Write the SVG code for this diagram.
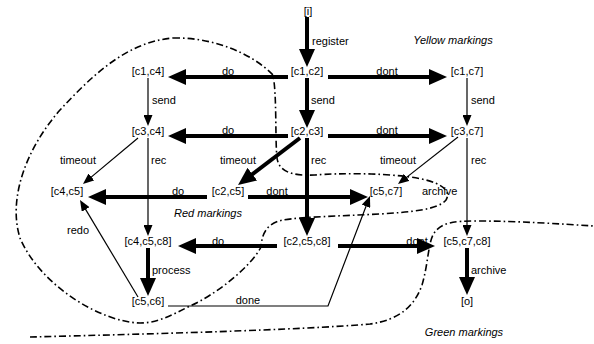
<svg xmlns="http://www.w3.org/2000/svg" width="594" height="344" viewBox="0 0 594 344">
  <style>
    text { font-family: "Liberation Sans", Arial, sans-serif; font-size: 11px; fill: #000; }
    .node { text-anchor: middle; }
    .mid { text-anchor: middle; }
    .note { font-style: italic; text-anchor: middle; }
    .thick { stroke: #000; stroke-width: 4; fill: none; marker-end: url(#headBig); }
    .thin { stroke: #000; stroke-width: 1.2; fill: none; marker-end: url(#headSmall); }
    .region { stroke: #000; stroke-width: 1.6; fill: none; stroke-dasharray: 7 3 1.6 3; }
  </style>
  <defs>
    <marker id="headBig" markerUnits="userSpaceOnUse" markerWidth="18" markerHeight="16" refX="6" refY="8" orient="auto">
      <path d="M0,0 L18,8 L0,16 z" fill="#000"/>
    </marker>
    <marker id="headSmall" markerUnits="userSpaceOnUse" markerWidth="11" markerHeight="9" refX="3" refY="4.5" orient="auto">
      <path d="M0,0 L11,4.5 L0,9 z" fill="#000"/>
    </marker>
  </defs>

  <rect width="594" height="344" fill="#fff"/>

  <!-- marking regions -->
  <g id="regions">
    <path class="region" d="M173,38 C212,37 252,53 273,75 C277,95 275,140 277,158 C279,172 292,176 315,175 C340,173 380,173 410,177 C440,181 452,190 446,200 C438,210 410,212 380,214 C340,216 300,217 283,220 C268,223 262,232 261,247 C250,268 215,295 190,306 C172,315 158,323 140,323 C100,322 40,285 20,238 C8,200 25,150 60,110 C90,78 125,42 173,38 Z"/>
    <path class="region" d="M30,337 C150,334 300,330 370,324 C400,320 415,305 422,285 C428,265 428,245 433,235 C440,222 455,221 475,221 C520,221 560,224 594,226"/>
  </g>

  <!-- transitions -->
  <g id="connectors">
    <line class="thick" x1="307" y1="17" x2="307" y2="55"/>
    <line class="thick" x1="288" y1="77" x2="180" y2="77"/>
    <line class="thick" x1="328" y1="77" x2="435" y2="77"/>
    <line class="thick" x1="307" y1="78" x2="307" y2="116"/>
    <line class="thick" x1="288" y1="136" x2="180" y2="136"/>
    <line class="thick" x1="328" y1="136" x2="435" y2="136"/>
    <line class="thick" x1="300" y1="138" x2="247.6" y2="177.8"/>
    <line class="thick" x1="307" y1="138" x2="307" y2="224"/>
    <line class="thick" x1="207" y1="197" x2="100" y2="197"/>
    <line class="thick" x1="248" y1="197" x2="356" y2="197"/>
    <line class="thick" x1="277" y1="246" x2="190" y2="246"/>
    <line class="thick" x1="338" y1="246" x2="423" y2="246"/>
    <line class="thick" x1="148" y1="248" x2="148" y2="284"/>
    <line class="thick" x1="467" y1="248" x2="467" y2="283"/>

    <line class="thin" x1="148" y1="78" x2="148" y2="118"/>
    <line class="thin" x1="467" y1="78" x2="467" y2="118"/>
    <line class="thin" x1="138" y1="138" x2="89.1" y2="178.9"/>
    <line class="thin" x1="148" y1="138" x2="148" y2="228"/>
    <line class="thin" x1="458" y1="137" x2="404.3" y2="179.1"/>
    <line class="thin" x1="467" y1="138" x2="467" y2="228"/>
    <line class="thin" x1="138" y1="297" x2="84.1" y2="206.9"/>
    <polyline class="thin" points="168,306 328,306 367.1,203.5"/>
  </g>

  <!-- transition labels -->
  <g id="labels">
    <text x="312" y="45">register</text>
    <text class="mid" x="228" y="75">do</text>
    <text class="mid" x="387" y="75">dont</text>
    <text x="152" y="104">send</text>
    <text x="311" y="104">send</text>
    <text x="471" y="104">send</text>
    <text class="mid" x="228" y="134">do</text>
    <text class="mid" x="387" y="134">dont</text>
    <text class="mid" x="78" y="164">timeout</text>
    <text class="mid" x="238" y="164">timeout</text>
    <text class="mid" x="398" y="164">timeout</text>
    <text x="151" y="164">rec</text>
    <text x="311" y="164">rec</text>
    <text x="471" y="164">rec</text>
    <text class="mid" x="178" y="195">do</text>
    <text class="mid" x="277" y="195">dont</text>
    <text x="422" y="195">archive</text>
    <text class="mid" x="78" y="234">redo</text>
    <text class="mid" x="218" y="245">do</text>
    <text class="mid" x="417" y="245">dont</text>
    <text x="152" y="274">process</text>
    <text x="471" y="274">archive</text>
    <text class="mid" x="248" y="304">done</text>
    <text class="note" x="453" y="44">Yellow markings</text>
    <text class="note" x="208" y="217">Red markings</text>
    <text class="note" x="464" y="336">Green markings</text>
  </g>

  <!-- markings -->
  <g id="n-i"><text class="node" x="308" y="15">[i]</text></g>
  <g id="n-c1c4"><text class="node" x="148" y="75">[c1,c4]</text></g>
  <g id="n-c1c2"><text class="node" x="307" y="75">[c1,c2]</text></g>
  <g id="n-c1c7"><text class="node" x="467" y="75">[c1,c7]</text></g>
  <g id="n-c3c4"><text class="node" x="148" y="134.5">[c3,c4]</text></g>
  <g id="n-c2c3"><text class="node" x="307" y="134.5">[c2,c3]</text></g>
  <g id="n-c3c7"><text class="node" x="467" y="134.5">[c3,c7]</text></g>
  <g id="n-c4c5"><text class="node" x="67" y="195">[c4,c5]</text></g>
  <g id="n-c2c5"><text class="node" x="228" y="195">[c2,c5]</text></g>
  <g id="n-c5c7"><text class="node" x="386" y="195">[c5,c7]</text></g>
  <g id="n-c4c5c8"><text class="node" x="148" y="244.5">[c4,c5,c8]</text></g>
  <g id="n-c2c5c8"><text class="node" x="307" y="244.5">[c2,c5,c8]</text></g>
  <g id="n-c5c7c8"><text class="node" x="467" y="244.5">[c5,c7,c8]</text></g>
  <g id="n-c5c6"><text class="node" x="148" y="304.5">[c5,c6]</text></g>
  <g id="n-o"><text class="node" x="467" y="304.5">[o]</text></g>
</svg>
